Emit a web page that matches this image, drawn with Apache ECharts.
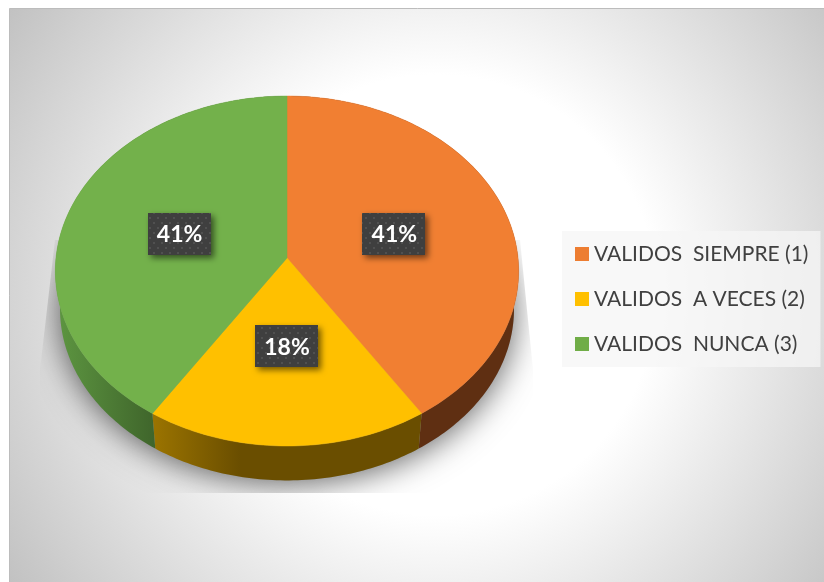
<!DOCTYPE html>
<html>
<head>
<meta charset="utf-8">
<script src="https://cdn.jsdelivr.net/npm/echarts@6/dist/echarts.min.js"></script>
<style>
    html, body { margin: 0; padding: 0; background: #fff; }
    #chart { width: 824px; height: 582px; }
</style>
</head>
<body>
<div id="chart"></div>
<script>
const categories = ["VALIDOS  SIEMPRE (1)", "VALIDOS  A VECES (2)", "VALIDOS  NUNCA (3)"];
// the labels round these to 41% / 18% / 41%
const values = [40.8, 18.4, 40.8];

const topColors = ["#f17f32", "#ffc000", "#73b14b"];
const legendColors = ["#ed7d31", "#ffc000", "#70ad47"];
const wallFills = [
    "#5f2f12",
    { type: "linear", x: 155, y: 0, x2: 240, y2: 0, global: true, colorStops: [
        { offset: 0, color: "#9a7300" }, { offset: 1, color: "#6a4e00" }] },
    { type: "linear", x: 60, y: 0, x2: 155, y2: 0, global: true, colorStops: [
        { offset: 0, color: "#5c9440" }, { offset: 1, color: "#3f652b" }] }
];

// apex of the pie and the tilt of the disc
const apex = [287, 258];
const radiusX = 231;
const radiusY = 174;
const perspective = 0.0743;
const rimScale = 0.98;
const rimDrop = 38.5;

const total = values.reduce((a, b) => a + b, 0);

// angle in degrees, clockwise from the top
function project(angle, t, drop) {
    const rad = angle * Math.PI / 180;
    const x = Math.sin(rad) * t;
    const y = -Math.cos(rad) * t;
    const w = 1 - perspective * y;
    return [apex[0] + radiusX * x / w, apex[1] + radiusY * y / w + (drop || 0)];
}

function arcPoints(from, to, t, drop) {
    const points = [];
    const steps = Math.max(2, Math.ceil(Math.abs(to - from)));
    for (let i = 0; i <= steps; i++) {
        points.push(project(from + (to - from) * i / steps, t, drop));
    }
    return points;
}

// dotted fill of the value labels
function labelPattern() {
    const canvas = document.createElement("canvas");
    canvas.width = 8;
    canvas.height = 10;
    const ctx = canvas.getContext("2d");
    ctx.fillStyle = "#3f3f3f";
    ctx.fillRect(0, 0, 8, 10);
    ctx.fillStyle = "#505050";
    ctx.fillRect(1, 2, 2, 2);
    ctx.fillRect(5, 7, 2, 2);
    return { image: canvas, repeat: "repeat" };
}
const pattern = labelPattern();

function renderShadow() {
    return {
        type: "polygon",
        silent: true,
        shape: { points: arcPoints(0, 360, rimScale, rimDrop) },
        style: {
            fill: "#999",
            shadowBlur: 32,
            shadowColor: "rgba(0,0,0,0.62)",
            shadowOffsetY: 3
        },
        clipPath: {
            type: "polygon",
            shape: { points: [[55, 240], [520, 240], [533, 370], [533, 493], [40, 493], [40, 370]] }
        }
    };
}

function sliceRenderer(index) {
    const start = values.slice(0, index).reduce((a, b) => a + b, 0) / total * 360;
    const end = start + values[index] / total * 360;
    const mid = (start + end) / 2;
    return function () {
        const wall = arcPoints(start, end, 1)
            .concat(arcPoints(end, start, rimScale, rimDrop));
        const top = [apex].concat(arcPoints(start, end, 1));
        const at = project(mid, 0.49);
        return {
            type: "group",
            children: [
                { type: "polygon", shape: { points: wall }, style: { fill: wallFills[index] } },
                {
                    type: "polygon",
                    shape: { points: top },
                    style: { fill: topColors[index], stroke: topColors[index], lineWidth: 0.5 }
                },
                {
                    type: "rect",
                    shape: { x: Math.round(at[0]) - 32, y: Math.round(at[1]) - 21, width: 63, height: 42 },
                    style: {
                        fill: pattern,
                        shadowBlur: 6,
                        shadowColor: "rgba(0,0,0,0.55)",
                        shadowOffsetX: 3,
                        shadowOffsetY: 3
                    },
                    z2: 5
                },
                {
                    type: "text",
                    z2: 6,
                    style: {
                        x: at[0],
                        y: at[1] + 1,
                        text: Math.round(values[index]) + "%",
                        fill: "#fff",
                        font: "bold 23px Lato",
                        align: "center",
                        verticalAlign: "middle"
                    }
                }
            ]
        };
    };
}

const chart = echarts.init(document.getElementById("chart"));

const series = [{
    name: "shadow",
    type: "custom",
    coordinateSystem: "none",
    silent: true,
    data: [0],
    renderItem: renderShadow
}];
categories.forEach((name, i) => {
    series.push({
        name: name,
        type: "custom",
        coordinateSystem: "none",
        silent: true,
        data: [values[i]],
        itemStyle: { color: legendColors[i] },
        renderItem: sliceRenderer(i)
    });
});

chart.setOption({
    animation: false,
    backgroundColor: "#fff",
    graphic: [{
        type: "rect",
        silent: true,
        z: -10,
        shape: { x: 9.5, y: 8.5, width: 830, height: 590 },
        style: {
            fill: {
                type: "radial", x: 436, y: 295, r: 512, global: true,
                colorStops: [
                    { offset: 0, color: "#ffffff" },
                    { offset: 0.43, color: "#ffffff" },
                    { offset: 1, color: "#c2c2c2" }
                ]
            },
            stroke: "#bcbcbc",
            lineWidth: 1
        }
    }],
    legend: {
        orient: "vertical",
        left: 562,
        top: 231,
        padding: [11, 12, 11, 13],
        itemWidth: 14,
        itemHeight: 14,
        itemGap: 21,
        icon: "rect",
        selectedMode: false,
        backgroundColor: "rgba(246,246,246,0.75)",
        data: categories,
        textStyle: { fontFamily: "Lato", fontSize: 21, color: "#404040", lineHeight: 24 }
    },
    series: series
});
</script>
</body>
</html>
